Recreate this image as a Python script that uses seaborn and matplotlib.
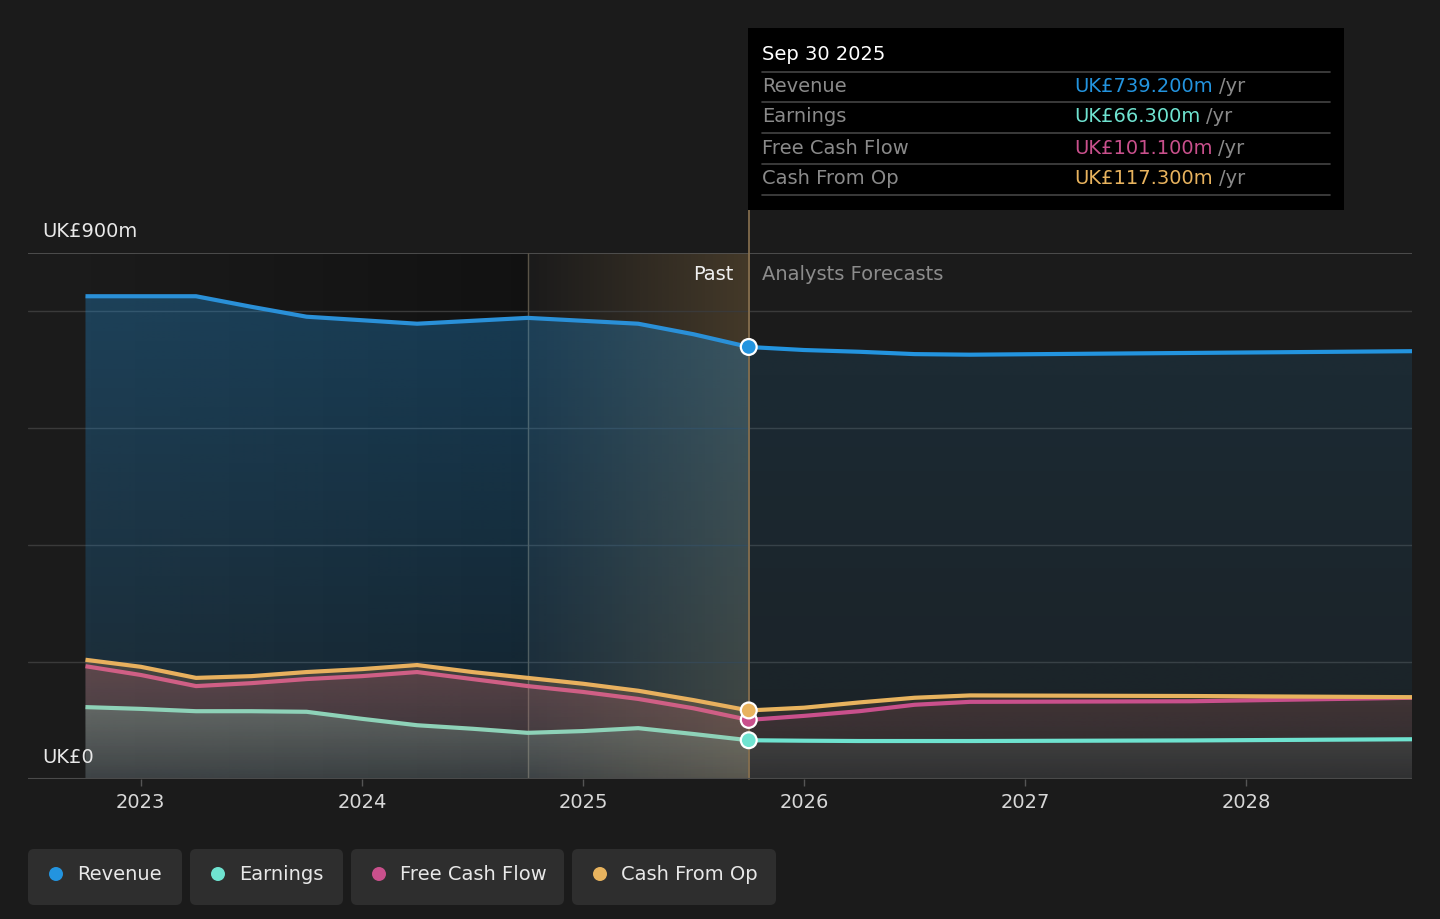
import numpy as np
import pandas as pd
import matplotlib
matplotlib.use("Agg")
import matplotlib.pyplot as plt
import seaborn as sns
from matplotlib.colors import to_rgb
from matplotlib.patches import FancyBboxPatch, Circle, Rectangle
from matplotlib.lines import Line2D
from matplotlib.transforms import IdentityTransform, blended_transform_factory

# --- data (UK£m, decimal years) ---
past_years = [2022.75, 2023.0, 2023.25, 2023.5, 2023.75, 2024.0, 2024.25,
              2024.5, 2024.75, 2025.0, 2025.25, 2025.5, 2025.75]
fc_years = [2025.75, 2026.0, 2026.25, 2026.5, 2026.75, 2027.75, 2028.75]

revenue_past = [826, 826, 826, 808, 791, 785, 779, 784, 789, 784, 779, 761, 739.2]
revenue_fc = [739.2, 734, 731, 727, 726, 729, 732]
earnings_past = [123, 120, 116, 116, 115, 103, 92, 86, 79, 82, 87, 77, 66.3]
earnings_fc = [66.3, 65.5, 65, 65, 65, 66, 68]
fcf_past = [193, 178, 159, 164, 171, 176, 183, 171, 159, 149, 137, 121, 101.1]
fcf_fc = [101.1, 108, 116, 127, 132, 133, 139]
cfo_past = [204, 192, 173, 176, 183, 188, 195, 183, 173, 163, 151, 135, 117.3]
cfo_fc = [117.3, 122, 131, 139, 143, 142, 140]

series_names = ["Revenue", "Earnings", "Free Cash Flow", "Cash From Op"]
tooltip_values = ["UK£739.200m", "UK£66.300m", "UK£101.100m", "UK£117.300m"]
year_ticks = [2023, 2024, 2025, 2026, 2027, 2028]

colors = {"Revenue": "#2394df", "Earnings": "#6fe3d0",
          "Free Cash Flow": "#c9508c", "Cash From Op": "#e8b35e"}
past_colors = {"Revenue": "#2a90d8", "Earnings": "#8ed2b8",
               "Free Cash Flow": "#cf5f85", "Cash From Op": "#e8b05e"}
BG = "#1b1b1b"
W, H = 1440, 919
FS = 14

past = {"Revenue": revenue_past, "Earnings": earnings_past,
        "Free Cash Flow": fcf_past, "Cash From Op": cfo_past}
fcst = {"Revenue": revenue_fc, "Earnings": earnings_fc,
        "Free Cash Flow": fcf_fc, "Cash From Op": cfo_fc}

rows = []
for name in series_names:
    for x, v in zip(past_years, past[name]):
        rows.append({"year": x, "value": v, "series": name, "period": "past"})
    for x, v in zip(fc_years, fcst[name]):
        rows.append({"year": x, "value": v, "series": name, "period": "forecast"})
df = pd.DataFrame(rows)

sns.set_theme(style="dark")
plt.rcParams["font.family"] = ["DejaVu Sans"]

fig = plt.figure(figsize=(W / 100, H / 100), dpi=100, facecolor=BG, edgecolor=BG)
ax = fig.add_axes([28 / W, (H - 779) / H, 1384 / W, 526 / H])
ax.set_facecolor(BG)
X0, X1 = 2022.49, 2028.75
now = past_years[-1]


def grad_fill(x, y, color, a_top, a_bot, z):
    x = np.asarray(x, float)
    y = np.asarray(y, float)
    poly = ax.fill_between(x, y, 0, color="none", lw=0)
    img = np.zeros((200, 1, 4))
    img[..., :3] = to_rgb(color)
    img[..., 3] = np.linspace(a_bot, a_top, 200)[:, None]
    im = ax.imshow(img, aspect="auto", origin="lower", zorder=z,
                   extent=[x.min(), x.max(), 0, y.max()], interpolation="bilinear")
    im.set_clip_path(poly.get_paths()[0], transform=ax.transData)


def hgrad(xa, xb, color, a_left, a_right, z):
    img = np.zeros((1, 200, 4))
    img[..., :3] = to_rgb(color)
    img[..., 3] = np.linspace(a_left, a_right, 200)[None, :]
    ax.imshow(img, aspect="auto", origin="lower", zorder=z,
              extent=[xa, xb, 0, 900], interpolation="bilinear")


# background shading: darker past, highlighted last year
hgrad(2022.75, 2024.75, "#000000", 0.0, 0.35, 0.5)
hgrad(2024.75, now, "#c89a55", 0.0, 0.24, 0.5)

# gridlines
for g in [200, 400, 600, 800]:
    ax.axhline(g, color="#3a3a3a", lw=1, zorder=1)
ax.axhline(900, color="#555555", lw=1.2, zorder=1)
ax.axhline(0, color="#4a4a4a", lw=1.5, zorder=6)
ax.axvline(2024.75, color="#5a5448", lw=1, zorder=1)

# area fills
fill_alpha = {"Revenue": (0.32, 0.12, 0.13, 0.06),
              "Cash From Op": (0.22, 0.08, 0.12, 0.05),
              "Free Cash Flow": (0.18, 0.06, 0.10, 0.04),
              "Earnings": (0.26, 0.10, 0.10, 0.05)}
fill_colors = {"Revenue": "#2394df", "Cash From Op": "#e8a060",
               "Free Cash Flow": "#c9507a", "Earnings": "#9ad8c0"}
for i, name in enumerate(["Revenue", "Cash From Op", "Free Cash Flow", "Earnings"]):
    a = fill_alpha[name]
    grad_fill(past_years, past[name], fill_colors[name], a[0], a[1], 2 + i * 0.1)
    grad_fill(fc_years, fcst[name], fill_colors[name], a[2], a[3], 2 + i * 0.1)

sns.lineplot(data=df[df["period"] == "past"], x="year", y="value", hue="series",
             palette=past_colors, hue_order=series_names, linewidth=3.0,
             legend=False, ax=ax, zorder=4, solid_capstyle="butt")
sns.lineplot(data=df[df["period"] == "forecast"], x="year", y="value", hue="series",
             palette=colors, hue_order=series_names, linewidth=3.0,
             legend=False, ax=ax, zorder=4, solid_capstyle="butt")

pts = df[(df["year"] == now) & (df["period"] == "past")]
sns.scatterplot(data=pts, x="year", y="value", hue="series", palette=colors,
                hue_order=series_names, s=130, edgecolor="white", linewidth=1.6,
                legend=False, ax=ax, zorder=7, clip_on=False)

ax.axvline(now, ymin=0, ymax=(779 - 210) / 526, color="#8a7250", lw=1.2,
           zorder=3, clip_on=False)

ax.set_xlim(X0, X1)
ax.set_ylim(0, 900)
ax.set_xticks(year_ticks)
ax.set_xticklabels([str(y) for y in year_ticks])
ax.set_yticks([])
ax.set_xlabel("")
ax.set_ylabel("")
ax.tick_params(axis="x", colors="#555555", labelcolor="#d8d8d8", labelsize=FS,
               length=5, width=1, direction="out", pad=5, bottom=True)
for s in ax.spines.values():
    s.set_visible(False)

tb = blended_transform_factory(ax.transAxes, ax.transData)
ax.text(14 / 1384, 936, "UK£900m", color="#e8e8e8", fontsize=FS, va="center",
        ha="left", transform=tb)
ax.text(14 / 1384, 36, "UK£0", color="#e8e8e8", fontsize=FS, va="center",
        ha="left", transform=tb, zorder=8)
ax.text(now - 0.07, 864, "Past", color="#f0f0f0", fontsize=FS, va="center",
        ha="right", zorder=8)
ax.text(now + 0.062, 864, "Analysts Forecasts", color="#8c8c8c", fontsize=FS,
        va="center", ha="left", zorder=8)


def fx(x):
    return x / W


def fy(y):
    return 1 - y / H


# tooltip
fig.add_artist(Rectangle((fx(748), fy(210)), fx(596), 182 / H, transform=fig.transFigure,
                         facecolor="#000000", edgecolor="none", zorder=10))
fig.text(fx(762), fy(55), "Sep 30 2025", color="#ffffff", fontsize=FS,
         va="center", ha="left", zorder=11)
for yl in [72, 102, 133, 164, 195]:
    fig.add_artist(Line2D([fx(762), fx(1330)], [fy(yl), fy(yl)], color="#444444",
                          lw=1.2, transform=fig.transFigure, zorder=11))
row_y = [87, 117, 148, 178]
for name, val, yy in zip(series_names, tooltip_values, row_y):
    fig.text(fx(762), fy(yy), name, color="#8a8a8a", fontsize=FS, va="center",
             ha="left", zorder=11)
    t = fig.text(fx(1074), fy(yy), val, color=colors[name], fontsize=FS,
                 va="center", ha="left", zorder=11)
    fig.canvas.draw()
    bb = t.get_window_extent()
    fig.text(bb.x1 / W + fx(6), fy(yy), "/yr", color="#8a8a8a", fontsize=FS,
             va="center", ha="left", zorder=11)

# legend chips
chips = [(28, 154), (190, 153), (351, 213), (572, 204)]
for name, (x, w) in zip(series_names, chips):
    fig.add_artist(FancyBboxPatch((x, H - 905), w, 56,
                                  boxstyle="round,pad=0,rounding_size=6",
                                  transform=IdentityTransform(),
                                  facecolor="#2e2e2e", edgecolor="none"))
    fig.add_artist(Circle((x + 28, H - 874), 7, transform=IdentityTransform(),
                          facecolor=colors[name], edgecolor="none"))
    fig.text(fx(x + 49), fy(874), name, color="#e8e8e8", fontsize=FS,
             va="center", ha="left")

fig.savefig("out.png", dpi=100, facecolor=BG, edgecolor=BG)
